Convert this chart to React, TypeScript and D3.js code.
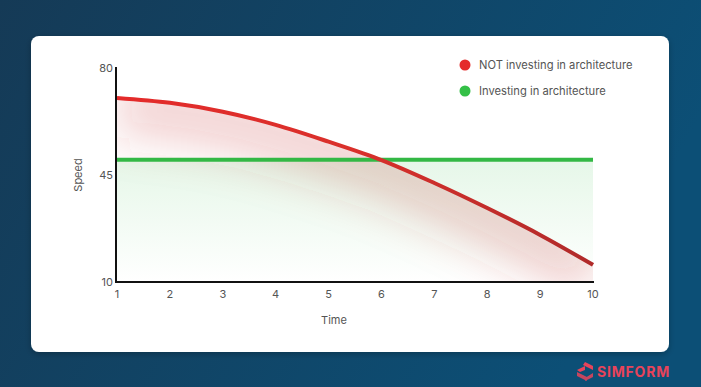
import React from 'react';
import * as d3 from 'd3';

const times = [1, 2, 3, 4, 5, 6, 7, 8, 9, 10];
const notInvesting = [70.2, 68.6, 65.7, 61.4, 55.9, 49.9, 42.4, 34.2, 25.4, 15.6];
const investing = [50, 50, 50, 50, 50, 50, 50, 50, 50, 50];
const yTicks = [10, 45, 80];
const legendLabels = ['NOT investing in architecture', 'Investing in architecture'];
const legendColors = ['#e42a2a', '#34c047'];

const W = 701;
const H = 387;
const FONT = 'Inter, Roboto, sans-serif';

const App: React.FC = () => {
  const x = d3.scaleLinear().domain([1, 10]).range([117, 593]);
  const y = d3.scaleLinear().domain([10, 80]).range([282, 68]);

  const redPts: [number, number][] = times.map((t, i) => [t, notInvesting[i]]);
  const greenPts: [number, number][] = times.map((t, i) => [t, investing[i]]);

  const line = d3.line<[number, number]>()
    .x(d => x(d[0]))
    .y(d => y(d[1]))
    .curve(d3.curveMonotoneX);
  const area = d3.area<[number, number]>()
    .x(d => x(d[0]))
    .y0(y(10))
    .y1(d => y(d[1]))
    .curve(d3.curveMonotoneX);

  return (
    <svg width={W} height={H} style={{ position: 'absolute', left: 0, top: 0 }}>
      <defs>
        <linearGradient id="bg" x1="0" y1="0" x2="1" y2="0.3">
          <stop offset="0" stopColor="#153a56" />
          <stop offset="1" stopColor="#0c4f76" />
        </linearGradient>
        <linearGradient id="greenFill" x1="0" y1="0" x2="0" y2="1">
          <stop offset="0" stopColor="#3cc04f" stopOpacity={0.13} />
          <stop offset="1" stopColor="#3cc04f" stopOpacity={0} />
        </linearGradient>
        <linearGradient id="redStroke" gradientUnits="userSpaceOnUse" x1={x(1)} y1="0" x2={x(10)} y2="0">
          <stop offset="0" stopColor="#e42a2a" />
          <stop offset="0.5" stopColor="#d9302b" />
          <stop offset="1" stopColor="#b02a2a" />
        </linearGradient>
        <clipPath id="redClip">
          <path d={area(redPts) || ''} />
        </clipPath>
        <filter id="soft" x="-20%" y="-50%" width="140%" height="200%">
          <feGaussianBlur stdDeviation="22" />
        </filter>
        <filter id="shadow" x="-5%" y="-5%" width="110%" height="115%">
          <feDropShadow dx="0" dy="2" stdDeviation="3" floodColor="#000" floodOpacity="0.25" />
        </filter>
      </defs>
      <rect x={0} y={0} width={W} height={H} fill="url(#bg)" />
      <rect x={31} y={36} width={638} height={316} rx={8} fill="#fff" filter="url(#shadow)" />

      <path d={area(greenPts) || ''} fill="url(#greenFill)" />
      <g clipPath="url(#redClip)">
        <path
          d={line(redPts) || ''}
          transform="translate(0,8)"
          fill="none"
          stroke="#c9302c"
          strokeOpacity={0.22}
          strokeWidth={60}
          filter="url(#soft)"
        />
      </g>
      <path d={line(greenPts) || ''} fill="none" stroke="#33b845" strokeWidth={4} />
      <path d={line(redPts) || ''} fill="none" stroke="url(#redStroke)" strokeWidth={4} />

      <line x1={116} x2={116} y1={67} y2={283} stroke="#111" strokeWidth={2} />
      <line x1={115} x2={594} y1={282} y2={282} stroke="#111" strokeWidth={2} />

      {yTicks.map(v => (
        <text key={v} x={113} y={y(v)} dy="0.35em" textAnchor="end" fontSize={11} fill="#555" fontFamily={FONT}>
          {v}
        </text>
      ))}
      {times.map(t => (
        <text key={t} x={x(t)} y={298} textAnchor="middle" fontSize={11} fill="#555" fontFamily={FONT}>
          {t}
        </text>
      ))}
      <text x={334} y={324} textAnchor="middle" fontSize={11} fill="#555" fontFamily={FONT}>Time</text>
      <text transform={`translate(82,175) rotate(-90)`} textAnchor="middle" fontSize={11} fill="#555" fontFamily={FONT}>Speed</text>

      {legendLabels.map((l, i) => (
        <g key={l} transform={`translate(465,${65 + i * 26})`}>
          <circle r={5.5} fill={legendColors[i]} />
          <text x={14} dy="0.35em" fontSize={11.2} fill="#555" fontFamily={FONT}>{l}</text>
        </g>
      ))}

      <g transform="translate(577,362)">
        <path d="M8 0 L16 4 L16 8 L6 3 Z M0 8 L8 4 L8 8 L3 10 Z" fill="#e8435a" />
        <path d="M0 10 L10 15 L10 19 L0 14 Z M8 16 L16 11 L16 15 L8 19 Z" fill="#e8435a" opacity={0.85} />
      </g>
      <text x={597} y={377} fontSize={14} fontWeight={700} fill="#e8435a" fontFamily={FONT} letterSpacing={0.8}>SIMFORM</text>
    </svg>
  );
};

export default App;
